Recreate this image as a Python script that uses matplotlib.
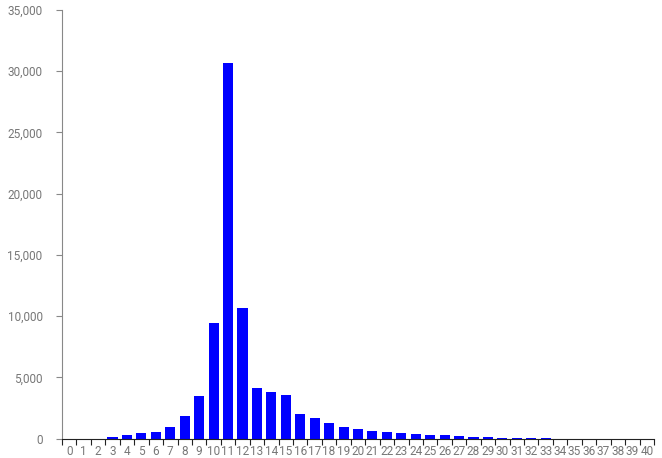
import numpy as np
import matplotlib
matplotlib.use('Agg')
import matplotlib.pyplot as plt
from matplotlib.ticker import FuncFormatter

plt.rcParams['font.family'] = ['Roboto', 'DejaVu Sans']

categories = list(range(41))
counts = [0, 0, 0, 100, 300, 410, 570, 980, 1820, 3460,
          9400, 30650, 10700, 4120, 3820, 3540, 2020, 1660, 1230, 980,
          760, 620, 540, 410, 330, 250, 250, 165, 160, 150,
          80, 80, 70, 60, 0, 0, 0, 0, 0, 0, 0]
y_ticks = [0, 5000, 10000, 15000, 20000, 25000, 30000, 35000]

fig = plt.figure(figsize=(6.62, 4.58), dpi=100)
ax = fig.add_axes([62 / 662, 1 - 438.5 / 458, 592 / 662, 428.5 / 458])

x = np.arange(len(categories))
ax.bar(x, counts, width=0.7, color='#0000ff')

ax.set_xlim(-0.5, len(categories) - 0.5)
ax.set_ylim(0, 35000)

# band edges as ticks, labels centred under the bars
ax.set_xticks(np.arange(len(categories) + 1) - 0.5)
ax.set_xticklabels([])
ax.set_xticks(x, minor=True)
ax.set_xticklabels([str(c) for c in categories], minor=True)
ax.tick_params(axis='x', which='major', length=4, color='#222222', direction='out')
ax.tick_params(axis='x', which='minor', length=0, pad=5, labelsize=8.5, labelcolor='#777777')

ax.set_yticks(y_ticks)
ax.yaxis.set_major_formatter(FuncFormatter(lambda v, p: f'{int(v):,}'))
ax.tick_params(axis='y', length=4, color='#888888', labelsize=8.5, labelcolor='#777777', pad=10)

for s in ['top', 'right']:
    ax.spines[s].set_visible(False)
ax.spines['left'].set_color('#888888')
ax.spines['bottom'].set_color('#222222')

fig.savefig('out.png', dpi=100)
